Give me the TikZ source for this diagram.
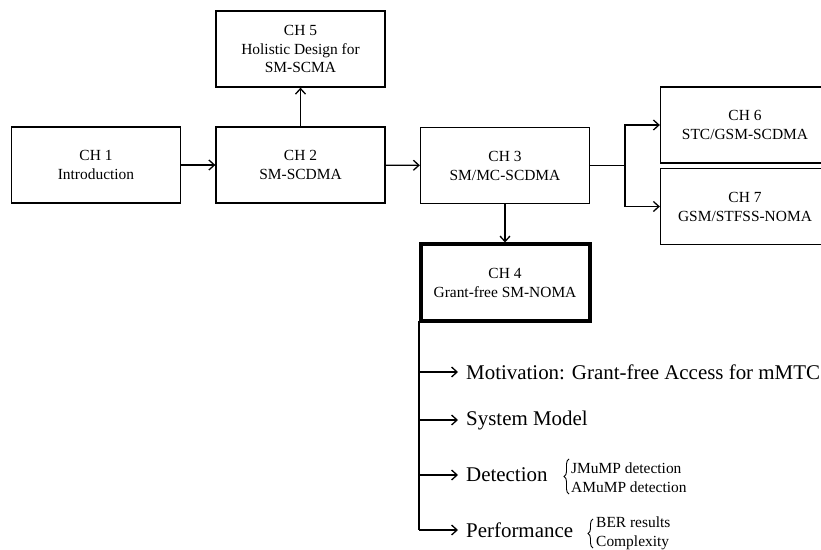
\documentclass[tikz,border=0pt]{standalone}
\usepackage{fontspec}
\setmainfont{Liberation Serif}
\usetikzlibrary{arrows.meta,decorations.pathreplacing}
\begin{document}
\begin{tikzpicture}[x=1bp,y=-1bp,
  chbox/.style={draw,line width=1.3bp,minimum width=169bp,minimum height=76bp,
    inner sep=0pt,align=center,font=\fontsize{15.5}{19}\selectfont},
  keybox/.style={chbox,line width=4bp},
  flow/.style={line width=1.3bp,-{Straight Barb[length=5.5bp,width=10bp]}},
  link/.style={line width=1.3bp},
  item/.style={anchor=west,inner xsep=8bp,inner ysep=0pt,font=\fontsize{21}{25}\selectfont},
  subitem/.style={anchor=west,inner sep=0pt,align=left,font=\fontsize{15.5}{19.5}\selectfont},
  curly/.style={decorate,decoration={brace,amplitude=5bp},line width=0.9bp}]
\clip (0,0) rectangle (821,550);
\fill[white] (0,0) rectangle (821,550);

% chapter boxes
\node[chbox] (ch1) at (96,165) {CH 1\\Introduction};
\node[chbox] (ch2) at (300.5,165) {CH 2\\SM-SCDMA};
\node[chbox] (ch5) at (300.5,49) {CH 5\\Holistic Design for\\SM-SCMA};
\node[chbox] (ch3) at (505,165.5) {CH 3\\SM/MC-SCDMA};
\node[chbox] (ch6) at (745,125) {CH 6\\STC/GSM-SCDMA};
\node[chbox] (ch7) at (745,206.5) {CH 7\\GSM/STFSS-NOMA};
\node[keybox] (ch4) at (505,282.5) {CH 4\\Grant-free SM-NOMA};

% main flow
\draw[flow] (ch1) -- (ch2);
\draw[flow] (ch2) -- (ch5);
\draw[flow] (ch2) -- (ch3);
\draw[flow] (ch3) -- (ch4);
\coordinate (fork) at (625,165.5);
\draw[link] (ch3.east) -- (fork);
\draw[flow] (fork) |- (ch6.west);
\draw[flow] (fork) |- (ch7.west);

% outline of chapter 4
\node[item] (mot) at (458,372) {Motivation: Grant-free Access for mMTC};
\node[item] (sys) at (458,420) {System Model};
\node[item] (det) at (458,475) {Detection};
\node[item] (perf) at (458,530) {Performance};

\coordinate (s1) at (419,372);
\coordinate (s2) at (419,420);
\coordinate (s3) at (419,475);
\coordinate (s4) at (419,530);
\draw[link] (419,321) -- (s4);
\draw[flow] (s1) -- (mot.west);
\draw[flow] (s2) -- (sys.west);
\draw[flow] (s3) -- (det.west);
\draw[flow] (s4) -- (perf.west);

\draw[curly] (569,494) -- (569,459);
\node[subitem] (detsub) at (571,477.5) {JMuMP detection\\AMuMP detection};
\draw[curly] (593,548) -- (593,519);
\node[subitem] (perfsub) at (596,533.5) {BER results\\Complexity};
\end{tikzpicture}
\end{document}
